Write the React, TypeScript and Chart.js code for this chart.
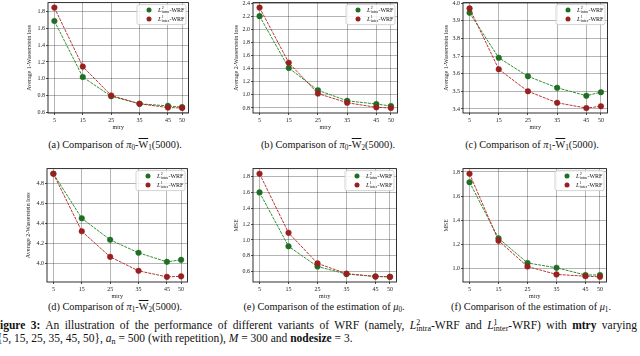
import React, { useEffect, useRef } from 'react';
import { Chart, registerables } from 'chart.js';
Chart.register(...registerables);

// ---------------- data ----------------
const mtry = [5, 15, 25, 35, 45, 50];
const xTickValues = [5, 15, 25, 35, 45, 50];

const aIntra = [1.69, 1.02, 0.79, 0.70, 0.675, 0.66];
const aInter = [1.85, 1.145, 0.80, 0.70, 0.655, 0.65];
const bIntra = [2.2, 1.41, 1.07, 0.91, 0.86, 0.83];
const bInter = [2.33, 1.49, 1.02, 0.88, 0.81, 0.80];
const cIntra = [3.945, 3.69, 3.585, 3.52, 3.475, 3.495];
const cInter = [3.97, 3.625, 3.50, 3.435, 3.405, 3.415];
const dIntra = [4.9, 4.455, 4.24, 4.11, 4.02, 4.04];
const dInter = [4.9, 4.325, 4.07, 3.93, 3.87, 3.875];
const eIntra = [1.60, 0.92, 0.665, 0.57, 0.54, 0.535];
const eInter = [1.835, 1.09, 0.705, 0.575, 0.54, 0.535];
const fIntra = [1.715, 1.25, 1.045, 1.005, 0.945, 0.945];
const fInter = [1.785, 1.23, 1.015, 0.95, 0.935, 0.93];

const ticksA = [0.6, 0.8, 1.0, 1.2, 1.4, 1.6, 1.8];
const ticksB = [0.8, 1.0, 1.2, 1.4, 1.6, 1.8, 2.0, 2.2, 2.4];
const ticksC = [3.4, 3.5, 3.6, 3.7, 3.8, 3.9, 4.0];
const ticksD = [4.0, 4.2, 4.4, 4.6, 4.8];
const ticksE = [0.6, 0.8, 1.0, 1.2, 1.4, 1.6, 1.8];
const ticksF = [1.0, 1.2, 1.4, 1.6, 1.8];

const seriesNames = ['L2intra-WRF', 'L1inter-WRF'];
const legendSup = ['2', '1'];
const legendSub = ['intra', 'inter'];
const xTitle = 'mtry';
const yTitles = [
  'Average 1-Wasserstein loss',
  'Average 2-Wasserstein loss',
  'Average 1-Wasserstein loss',
  'Average 2-Wasserstein loss',
  'MSE',
  'MSE',
];

// ---------------- style ----------------
const FONT = '"Liberation Serif", "DejaVu Serif", serif';
const GREEN_LINE = '#2f8f2f';
const GREEN_PT = '#1f6f22';
const RED_LINE = '#b83434';
const RED_PT = '#9a1f1f';
const PAD_T = 4;
const PAD_R = 3;
const XH = 18;

const framePlugin = {
  id: 'frameBox',
  afterDatasetsDraw(chart: any) {
    const { ctx, chartArea: a } = chart;
    ctx.save();
    ctx.strokeStyle = '#1a1a1a';
    ctx.lineWidth = 0.9;
    ctx.strokeRect(a.left, a.top, a.right - a.left, a.bottom - a.top);
    ctx.restore();
  },
};

const mathLegendPlugin = {
  id: 'mathLegend',
  afterDraw(chart: any) {
    const { ctx, chartArea: a } = chart;
    const w = 49;
    const h = 20;
    const x = a.right - w - 2.5;
    const y = a.top + 2;
    ctx.save();
    ctx.fillStyle = 'rgba(255,255,255,0.85)';
    ctx.strokeStyle = '#c8c8c8';
    ctx.lineWidth = 0.8;
    ctx.beginPath();
    ctx.roundRect(x, y, w, h, 2);
    ctx.fill();
    ctx.stroke();
    chart.data.datasets.forEach((ds: any, i: number) => {
      const cy = y + 5.5 + i * 9;
      ctx.fillStyle = ds.pointBackgroundColor;
      ctx.beginPath();
      ctx.arc(x + 12, cy, 2.5, 0, Math.PI * 2);
      ctx.fill();
      let tx = x + 21;
      ctx.fillStyle = '#111';
      ctx.textBaseline = 'middle';
      ctx.textAlign = 'left';
      ctx.font = `italic 6.5px ${FONT}`;
      ctx.fillText('L', tx, cy);
      tx += ctx.measureText('L').width + 0.2;
      ctx.font = `4px ${FONT}`;
      ctx.fillText(legendSup[i], tx, cy - 2.2);
      ctx.fillText(legendSub[i], tx, cy + 1.8);
      tx += Math.max(ctx.measureText(legendSub[i]).width, ctx.measureText(legendSup[i]).width) + 0.3;
      ctx.font = `6px ${FONT}`;
      ctx.fillText('-WRF', tx, cy);
    });
    ctx.restore();
  },
};

type Box = { left: number; top: number; right: number; bottom: number };
type PanelSpec = {
  intra: number[];
  inter: number[];
  yTicks: number[];
  yMin: number;
  yMax: number;
  yTitle: string;
  box: Box;
  yw: number;
};

function Panel({ p }: { p: PanelSpec }) {
  const ref = useRef<HTMLCanvasElement>(null);
  useEffect(() => {
    const chart = new Chart(ref.current as HTMLCanvasElement, {
      type: 'line',
      data: {
        datasets: [
          {
            label: seriesNames[0],
            data: mtry.map((m, i) => ({ x: m, y: p.intra[i] })),
            borderColor: GREEN_LINE,
            borderWidth: 1,
            borderDash: [3, 1],
            pointRadius: 2.8,
            pointBackgroundColor: GREEN_PT,
            pointBorderColor: GREEN_PT,
            pointBorderWidth: 0.5,
            tension: 0,
            order: 1,
          },
          {
            label: seriesNames[1],
            data: mtry.map((m, i) => ({ x: m, y: p.inter[i] })),
            borderColor: RED_LINE,
            borderWidth: 1,
            borderDash: [3, 1],
            pointRadius: 2.8,
            pointBackgroundColor: RED_PT,
            pointBorderColor: RED_PT,
            pointBorderWidth: 0.5,
            tension: 0,
            order: 0,
          },
        ],
      } as any,
      options: {
        responsive: false,
        animation: false,
        events: [],
        layout: { padding: { top: PAD_T, right: PAD_R, left: 0, bottom: 0 } },
        plugins: {
          legend: { display: false },
          tooltip: { enabled: false },
          title: { display: false },
        },
        scales: {
          x: {
            type: 'linear',
            min: 2.75,
            max: 52.25,
            afterBuildTicks: (s: any) => {
              s.ticks = xTickValues.map((v) => ({ value: v }));
            },
            afterFit: (s: any) => {
              s.height = XH;
            },
            ticks: {
              autoSkip: false,
              maxRotation: 0,
              padding: 1.5,
              color: '#222',
              font: { family: FONT, size: 6 },
              callback: (v: any) => String(v),
            },
            grid: {
              color: 'rgba(0,0,0,0.42)',
              lineWidth: 0.7,
              borderDash: [2, 1.5],
              drawTicks: true,
              tickLength: 2,
              tickColor: '#222',
              tickBorderDash: [],
              tickWidth: 0.8,
            },
            border: { display: false },
            title: {
              display: true,
              text: xTitle,
              color: '#222',
              padding: 0,
              font: { family: FONT, size: 6 },
            },
          },
          y: {
            type: 'linear',
            min: p.yMin,
            max: p.yMax,
            afterBuildTicks: (s: any) => {
              s.ticks = p.yTicks.map((v) => ({ value: v }));
            },
            afterFit: (s: any) => {
              s.width = p.yw;
            },
            ticks: {
              padding: 1,
              color: '#222',
              font: { family: FONT, size: 6 },
              callback: (v: any) => Number(v).toFixed(1),
            },
            grid: {
              color: 'rgba(0,0,0,0.42)',
              lineWidth: 0.7,
              borderDash: [2, 1.5],
              drawTicks: true,
              tickLength: 2,
              tickColor: '#222',
              tickBorderDash: [],
              tickWidth: 0.8,
            },
            border: { display: false },
            title: {
              display: true,
              text: p.yTitle,
              color: '#222',
              padding: 0,
              font: { family: FONT, size: 6 },
            },
          },
        },
      } as any,
      plugins: [framePlugin, mathLegendPlugin],
    });
    return () => chart.destroy();
  }, []);
  const bw = p.box.right - p.box.left;
  const bh = p.box.bottom - p.box.top;
  const W = p.yw + bw + PAD_R;
  const H = PAD_T + bh + XH;
  return (
    <canvas
      ref={ref}
      width={W}
      height={H}
      style={{ position: 'absolute', left: p.box.left - p.yw, top: p.box.top - PAD_T, width: W, height: H }}
    />
  );
}

const panels: PanelSpec[] = [
  { intra: aIntra, inter: aInter, yTicks: ticksA, yMin: 0.59, yMax: 1.91, yTitle: yTitles[0], box: { left: 48, top: 2, right: 190, bottom: 113 }, yw: 22 },
  { intra: bIntra, inter: bInter, yTicks: ticksB, yMin: 0.7235, yMax: 2.4065, yTitle: yTitles[1], box: { left: 253, top: 2, right: 399, bottom: 113 }, yw: 20 },
  { intra: cIntra, inter: cInter, yTicks: ticksC, yMin: 3.377, yMax: 4.003, yTitle: yTitles[2], box: { left: 463, top: 2, right: 609, bottom: 113 }, yw: 20 },
  { intra: dIntra, inter: dInter, yTicks: ticksD, yMin: 3.8185, yMax: 4.9515, yTitle: yTitles[3], box: { left: 47, top: 168, right: 189, bottom: 282 }, yw: 22 },
  { intra: eIntra, inter: eInter, yTicks: ticksE, yMin: 0.47, yMax: 1.9, yTitle: yTitles[4], box: { left: 253, top: 168, right: 398, bottom: 282 }, yw: 20 },
  { intra: fIntra, inter: fInter, yTicks: ticksF, yMin: 0.887, yMax: 1.828, yTitle: yTitles[5], box: { left: 463, top: 168, right: 608, bottom: 282 }, yw: 20 },
];

const sub = (t: string) => (
  <span style={{ fontSize: '0.7em', verticalAlign: '-0.3em', lineHeight: 0 }}>{t}</span>
);
const Wbar = (s: string) => (
  <>
    <span style={{ textDecoration: 'overline' }}>W</span>
    {sub(s)}
  </>
);
const pi = (s: string) => (
  <>
    <i>π</i>
    {sub(s)}
  </>
);
const mu = (s: string) => (
  <>
    <i>μ</i>
    {sub(s)}
  </>
);
const Lsym = (sp: string, sb: string) => (
  <>
    <i>L</i>
    <span style={{ display: 'inline-block', width: 0, fontSize: '0.7em', verticalAlign: '0.55em', lineHeight: 0 }}>{sp}</span>
    <span style={{ fontSize: '0.7em', verticalAlign: '-0.3em', lineHeight: 0 }}>{sb}</span>
  </>
);

function Caption({ cx, top, children }: { cx: number; top: number; children: any }) {
  return (
    <div
      style={{
        position: 'absolute',
        left: cx - 120,
        width: 240,
        top,
        textAlign: 'center',
        fontFamily: FONT,
        fontSize: 10.3,
        lineHeight: '12px',
        color: '#111',
        whiteSpace: 'nowrap',
      }}
    >
      {children}
    </div>
  );
}

export default function App() {
  return (
    <div
      style={{
        position: 'fixed',
        left: 0,
        top: 0,
        width: 640,
        height: 356,
        overflow: 'hidden',
        background: '#fff',
      }}
    >
      {panels.map((p, i) => (
        <Panel key={i} p={p} />
      ))}
      <Caption cx={115} top={139}>(a) Comparison of {pi('0')}-{Wbar('1')}(5000).</Caption>
      <Caption cx={328} top={139}>(b) Comparison of {pi('0')}-{Wbar('2')}(5000).</Caption>
      <Caption cx={532} top={139}>(c) Comparison of {pi('1')}-{Wbar('1')}(5000).</Caption>
      <Caption cx={115} top={301}>(d) Comparison of {pi('1')}-{Wbar('2')}(5000).</Caption>
      <Caption cx={324} top={301}>(e) Comparison of the estimation of {mu('0')}.</Caption>
      <Caption cx={531} top={301}>(f) Comparison of the estimation of {mu('1')}.</Caption>
      <div
        style={{
          position: 'absolute',
          left: -7,
          width: 644,
          top: 319,
          fontFamily: FONT,
          fontSize: 11.5,
          lineHeight: '13px',
          color: '#111',
          textAlign: 'justify',
          textAlignLast: 'justify' as any,
        }}
      >
        <b>Figure 3:</b> An illustration of the performance of different variants of WRF (namely, {Lsym('2', 'intra')}-WRF and{' '}
        {Lsym('1', 'inter')}-WRF) with <b>mtry</b> varying
      </div>
      <div
        style={{
          position: 'absolute',
          left: -3,
          top: 332,
          fontFamily: FONT,
          fontSize: 11.5,
          lineHeight: '13px',
          color: '#111',
          whiteSpace: 'nowrap',
        }}
      >
        {'{'}5, 15, 25, 35, 45, 50{'}'}, <i>a</i>
        {sub('n')} = 500 (with repetition), <i>M</i> = 300 and <b>nodesize</b> = 3.
      </div>
    </div>
  );
}
